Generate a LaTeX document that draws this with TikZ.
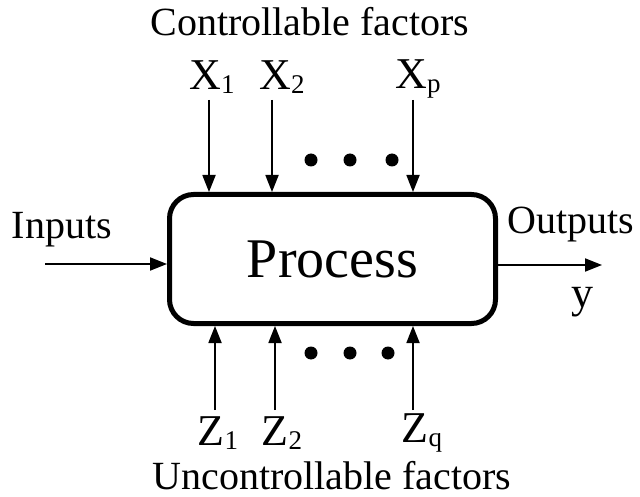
\documentclass[tikz,border=0pt]{standalone}
\usepackage{fontspec}
\setmainfont{Liberation Serif}
\usetikzlibrary{arrows.meta}
\newcommand{\lblsize}{\fontsize{40}{46}\selectfont}
\newcommand{\varsize}{\fontsize{44}{50}\selectfont}
\newcommand{\subsz}[1]{\raisebox{-0.08em}{\fontsize{27}{30}\selectfont #1}}
\begin{document}
\begin{tikzpicture}[x=1pt,y=-1pt,
  flow/.style={line width=1.8pt,-{Triangle[length=17pt,width=13pt]}},
  lbl/.style={inner sep=0pt,font=\lblsize},
  var/.style={inner sep=0pt,font=\varsize},
  dotmark/.style={circle,fill=black,inner sep=0pt,minimum size=13pt}]
\useasboundingbox (0,0) rectangle (640,497);
\node[draw,line width=5pt,rounded corners=24pt,minimum width=326pt,minimum height=129pt,inner sep=0pt,font=\fontsize{56}{62}\selectfont] (box) at (332.5,259) {Process};
% top
\node[lbl] (ctrl) at (310,22) {Controllable factors};
\node[var] (x1) at (212,77) {X\subsz{1}};
\node[var] (x2) at (282,77) {X\subsz{2}};
\node[var] (xp) at (418,79) {X\subsz{p}};
\coordinate (x1s) at (209,100);
\coordinate (x2s) at (272,100);
\coordinate (xps) at (413,100);
\draw[flow] (x1s) -- (x1s |- box.north);
\draw[flow] (x2s) -- (x2s |- box.north);
\draw[flow] (xps) -- (xps |- box.north);
\node[dotmark] (td1) at (311,160) {};
\node[dotmark] (td2) at (350,160) {};
\node[dotmark] (td3) at (392,160) {};
% bottom
\coordinate (z1s) at (215,410);
\coordinate (z2s) at (275,410);
\coordinate (zqs) at (413,410);
\draw[flow] (z1s) -- (z1s |- box.south);
\draw[flow] (z2s) -- (z2s |- box.south);
\draw[flow] (zqs) -- (zqs |- box.south);
\node[dotmark] (bd1) at (311,353) {};
\node[dotmark] (bd2) at (350,353) {};
\node[dotmark] (bd3) at (388,353) {};
\node[var] (z1) at (218,433) {Z\subsz{1}};
\node[var] (z2) at (282,433) {Z\subsz{2}};
\node[var] (zq) at (422,433) {Z\subsz{q}};
\node[lbl,anchor=base] (unctrl) at (332,489) {Uncontrollable factors};
% sides
\node[lbl] (inputs) at (62,230) {Inputs};
\coordinate (ins) at (45,264);
\draw[flow] (ins) -- (ins -| box.west);
\node[lbl] (outputs) at (571,225) {Outputs};
\coordinate (oute) at (602,265);
\draw[flow] (oute -| box.east) -- (oute);
\node[var] (y) at (582,302) {y};
\end{tikzpicture}
\end{document}
